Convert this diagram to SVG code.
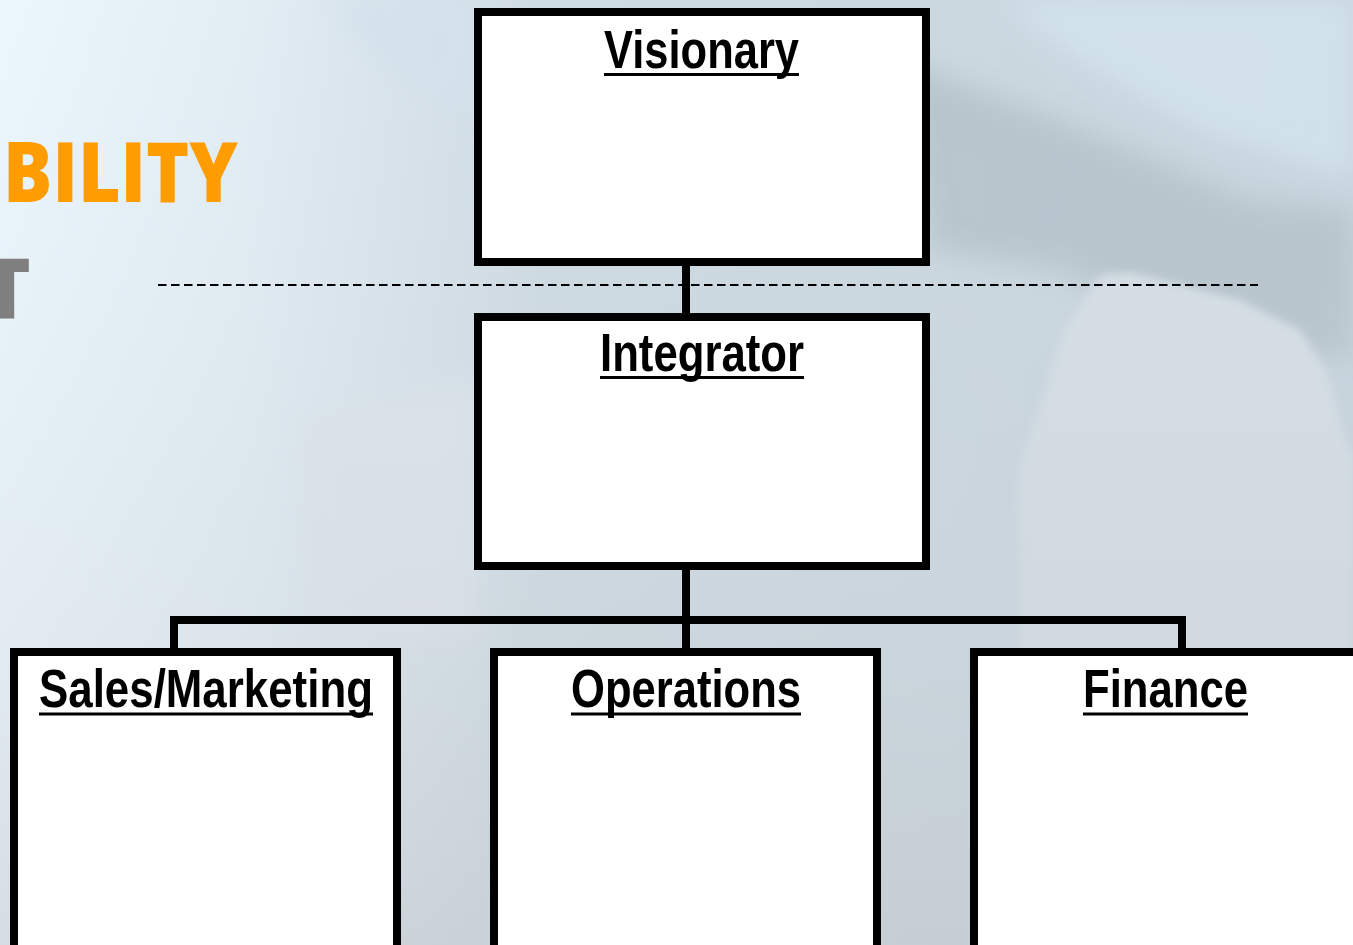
<svg xmlns="http://www.w3.org/2000/svg" width="1353" height="945" viewBox="0 0 1353 945">
  <defs>
    <linearGradient id="bg" x1="0" y1="0" x2="1" y2="0">
      <stop offset="0" stop-color="#ecf6fd"/>
      <stop offset="0.18" stop-color="#e2edf4"/>
      <stop offset="0.4" stop-color="#cfdbe3"/>
      <stop offset="1" stop-color="#c8d5de"/>
    </linearGradient>
    <linearGradient id="bgv" x1="0" y1="0" x2="0" y2="1">
      <stop offset="0" stop-color="#c8d6e2" stop-opacity="0"/>
      <stop offset="0.7" stop-color="#c4c9cd" stop-opacity="0.25"/>
      <stop offset="1" stop-color="#bfc4c8" stop-opacity="0.5"/>
    </linearGradient>
    <filter id="blur" x="-20%" y="-20%" width="140%" height="140%">
      <feGaussianBlur stdDeviation="14"/>
    </filter>
    <filter id="blur2" x="-20%" y="-20%" width="140%" height="140%">
      <feGaussianBlur stdDeviation="4"/>
    </filter>
    <style>
      .box { fill: #ffffff; stroke: #000000; stroke-width: 8; }
      .lbl { font-family: "Liberation Sans", Arial, sans-serif; font-weight: bold; font-size: 53px; fill: #000000; }
      .ul { stroke: #000000; stroke-width: 3; }
      .conn { fill: none; stroke: #000000; stroke-width: 8; stroke-linejoin: miter; }
      .title { font-family: "Open Sans", Lato, sans-serif; font-weight: 800; font-size: 84px; }
    </style>
  </defs>

  <!-- background -->
  <g id="background">
    <rect x="0" y="0" width="1353" height="945" fill="url(#bg)"/>
    <g filter="url(#blur)" opacity="0.9">
      <path d="M330 0 L480 0 L470 120 L380 60 Z" fill="#d4e2ec"/>
      <path d="M1000 0 L1353 0 L1353 180 L1200 130 L1080 60 Z" fill="#d3e3ee"/>
      <path d="M900 60 L1060 120 L1250 200 L1353 210 L1353 360 L1180 330 L1060 270 L930 250 Z" fill="#b6c3cb"/>
      <path d="M300 420 L480 380 L480 640 L320 640 Z" fill="#dfe6ec"/>
    </g>
    <g filter="url(#blur2)">
      <path d="M1100 275 L1130 272 L1240 300 L1300 330 L1325 370 L1345 440 L1353 460 L1353 945 L1030 945 L1018 880 L1020 470 L1065 330 Z" fill="#d6dfe5"/>
    </g>
    <rect x="0" y="0" width="1353" height="945" fill="url(#bgv)"/>
  </g>

  <!-- title fragments (clipped at the left edge, as in the reference) -->
  <g id="title">
    <text class="title" x="3" y="202" fill="#ff9c00" textLength="235" lengthAdjust="spacingAndGlyphs">BILITY</text>
    <text class="title" x="6" y="318" fill="#7f7f7f" text-anchor="middle">T</text>
  </g>

  <!-- dashed separator -->
  <line id="separator" x1="158" y1="285" x2="1258" y2="285" stroke="#000" stroke-width="2" stroke-dasharray="8.5 4.5"/>

  <!-- connectors -->
  <g id="connectors">
    <path class="conn" d="M686 264 L686 315"/>
    <path class="conn" d="M686 568 L686 650"/>
    <path class="conn" d="M174 650 L174 620 L1182 620 L1182 650"/>
  </g>

  <g id="node-visionary">
    <rect class="box" x="478" y="12" width="448" height="250"/>
    <text class="lbl" x="604" y="68" textLength="195" lengthAdjust="spacingAndGlyphs">Visionary</text>
    <line class="ul" x1="604" y1="74.5" x2="799" y2="74.5"/>
  </g>

  <g id="node-integrator">
    <rect class="box" x="478" y="317" width="448" height="249"/>
    <text class="lbl" x="600" y="371" textLength="204" lengthAdjust="spacingAndGlyphs">Integrator</text>
    <line class="ul" x1="600" y1="377.5" x2="804" y2="377.5"/>
  </g>

  <g id="node-sales">
    <rect class="box" x="14" y="652" width="383" height="400"/>
    <text class="lbl" x="39" y="707" textLength="334" lengthAdjust="spacingAndGlyphs">Sales/Marketing</text>
    <line class="ul" x1="39" y1="714" x2="373" y2="714"/>
  </g>

  <g id="node-operations">
    <rect class="box" x="494" y="652" width="383" height="400"/>
    <text class="lbl" x="571" y="707" textLength="230" lengthAdjust="spacingAndGlyphs">Operations</text>
    <line class="ul" x1="571" y1="714" x2="801" y2="714"/>
  </g>

  <g id="node-finance">
    <rect class="box" x="974" y="652" width="420" height="400"/>
    <text class="lbl" x="1083" y="707" textLength="165" lengthAdjust="spacingAndGlyphs">Finance</text>
    <line class="ul" x1="1083" y1="714" x2="1248" y2="714"/>
  </g>
</svg>
